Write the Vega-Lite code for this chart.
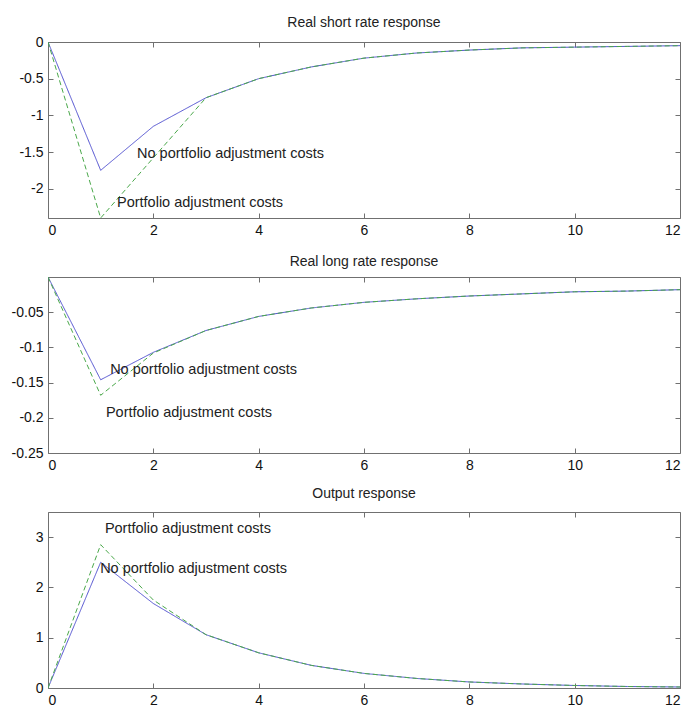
{
  "$schema": "https://vega.github.io/schema/vega-lite/v6.json",
  "background": "white",
  "padding": {"left": 11, "top": 16, "right": 3, "bottom": 2},
  "bounds": "flush",
  "spacing": 59,
  "config": {
    "view": {"stroke": null},
    "font": "Liberation Sans",
    "locale": {"number": {"decimal": ".", "thousands": ",", "grouping": [3], "currency": ["$", ""], "minus": "-"}},
    "axis": {
      "grid": false,
      "domainColor": "#707070",
      "tickColor": "#707070",
      "tickSize": -5,
      "labelPadding": 10,
      "labelColor": "#111111",
      "labelFontSize": 14,
      "labelFont": "Liberation Sans",
      "title": null
    },
    "title": {"fontSize": 14, "fontWeight": "normal", "font": "Liberation Sans", "color": "#222222", "baseline": "alphabetic", "anchor": "middle"},
    "text": {"font": "Liberation Sans"}
  },
  "datasets": {
    "short": [
      {"t": 0, "v": 0, "series": "No portfolio adjustment costs"},
      {"t": 1, "v": -1.75, "series": "No portfolio adjustment costs"},
      {"t": 2, "v": -1.15, "series": "No portfolio adjustment costs"},
      {"t": 3, "v": -0.76, "series": "No portfolio adjustment costs"},
      {"t": 4, "v": -0.5, "series": "No portfolio adjustment costs"},
      {"t": 5, "v": -0.34, "series": "No portfolio adjustment costs"},
      {"t": 6, "v": -0.22, "series": "No portfolio adjustment costs"},
      {"t": 7, "v": -0.15, "series": "No portfolio adjustment costs"},
      {"t": 8, "v": -0.11, "series": "No portfolio adjustment costs"},
      {"t": 9, "v": -0.08, "series": "No portfolio adjustment costs"},
      {"t": 10, "v": -0.07, "series": "No portfolio adjustment costs"},
      {"t": 11, "v": -0.06, "series": "No portfolio adjustment costs"},
      {"t": 12, "v": -0.05, "series": "No portfolio adjustment costs"},
      {"t": 0, "v": 0, "series": "Portfolio adjustment costs"},
      {"t": 1, "v": -2.4, "series": "Portfolio adjustment costs"},
      {"t": 2, "v": -1.58, "series": "Portfolio adjustment costs"},
      {"t": 3, "v": -0.76, "series": "Portfolio adjustment costs"},
      {"t": 4, "v": -0.5, "series": "Portfolio adjustment costs"},
      {"t": 5, "v": -0.34, "series": "Portfolio adjustment costs"},
      {"t": 6, "v": -0.22, "series": "Portfolio adjustment costs"},
      {"t": 7, "v": -0.15, "series": "Portfolio adjustment costs"},
      {"t": 8, "v": -0.11, "series": "Portfolio adjustment costs"},
      {"t": 9, "v": -0.08, "series": "Portfolio adjustment costs"},
      {"t": 10, "v": -0.07, "series": "Portfolio adjustment costs"},
      {"t": 11, "v": -0.06, "series": "Portfolio adjustment costs"},
      {"t": 12, "v": -0.05, "series": "Portfolio adjustment costs"}
    ],
    "shortText": [
      {"t": 1.69, "v": -1.53, "label": "No portfolio adjustment costs"},
      {"t": 1.31, "v": -2.2, "label": "Portfolio adjustment costs"}
    ],
    "long": [
      {"t": 0, "v": 0, "series": "No portfolio adjustment costs"},
      {"t": 1, "v": -0.146, "series": "No portfolio adjustment costs"},
      {"t": 2, "v": -0.107, "series": "No portfolio adjustment costs"},
      {"t": 3, "v": -0.076, "series": "No portfolio adjustment costs"},
      {"t": 4, "v": -0.056, "series": "No portfolio adjustment costs"},
      {"t": 5, "v": -0.044, "series": "No portfolio adjustment costs"},
      {"t": 6, "v": -0.036, "series": "No portfolio adjustment costs"},
      {"t": 7, "v": -0.031, "series": "No portfolio adjustment costs"},
      {"t": 8, "v": -0.027, "series": "No portfolio adjustment costs"},
      {"t": 9, "v": -0.024, "series": "No portfolio adjustment costs"},
      {"t": 10, "v": -0.021, "series": "No portfolio adjustment costs"},
      {"t": 11, "v": -0.02, "series": "No portfolio adjustment costs"},
      {"t": 12, "v": -0.018, "series": "No portfolio adjustment costs"},
      {"t": 0, "v": 0, "series": "Portfolio adjustment costs"},
      {"t": 1, "v": -0.168, "series": "Portfolio adjustment costs"},
      {"t": 2, "v": -0.108, "series": "Portfolio adjustment costs"},
      {"t": 3, "v": -0.076, "series": "Portfolio adjustment costs"},
      {"t": 4, "v": -0.056, "series": "Portfolio adjustment costs"},
      {"t": 5, "v": -0.044, "series": "Portfolio adjustment costs"},
      {"t": 6, "v": -0.036, "series": "Portfolio adjustment costs"},
      {"t": 7, "v": -0.031, "series": "Portfolio adjustment costs"},
      {"t": 8, "v": -0.027, "series": "Portfolio adjustment costs"},
      {"t": 9, "v": -0.024, "series": "Portfolio adjustment costs"},
      {"t": 10, "v": -0.021, "series": "Portfolio adjustment costs"},
      {"t": 11, "v": -0.02, "series": "Portfolio adjustment costs"},
      {"t": 12, "v": -0.018, "series": "Portfolio adjustment costs"}
    ],
    "longText": [
      {"t": 1.18, "v": -0.132, "label": "No portfolio adjustment costs"},
      {"t": 1.1, "v": -0.193, "label": "Portfolio adjustment costs"}
    ],
    "output": [
      {"t": 0, "v": 0, "series": "No portfolio adjustment costs"},
      {"t": 1, "v": 2.5, "series": "No portfolio adjustment costs"},
      {"t": 2, "v": 1.68, "series": "No portfolio adjustment costs"},
      {"t": 3, "v": 1.06, "series": "No portfolio adjustment costs"},
      {"t": 4, "v": 0.7, "series": "No portfolio adjustment costs"},
      {"t": 5, "v": 0.45, "series": "No portfolio adjustment costs"},
      {"t": 6, "v": 0.29, "series": "No portfolio adjustment costs"},
      {"t": 7, "v": 0.19, "series": "No portfolio adjustment costs"},
      {"t": 8, "v": 0.12, "series": "No portfolio adjustment costs"},
      {"t": 9, "v": 0.08, "series": "No portfolio adjustment costs"},
      {"t": 10, "v": 0.05, "series": "No portfolio adjustment costs"},
      {"t": 11, "v": 0.03, "series": "No portfolio adjustment costs"},
      {"t": 12, "v": 0.02, "series": "No portfolio adjustment costs"},
      {"t": 0, "v": 0, "series": "Portfolio adjustment costs"},
      {"t": 1, "v": 2.85, "series": "Portfolio adjustment costs"},
      {"t": 2, "v": 1.75, "series": "Portfolio adjustment costs"},
      {"t": 3, "v": 1.06, "series": "Portfolio adjustment costs"},
      {"t": 4, "v": 0.7, "series": "Portfolio adjustment costs"},
      {"t": 5, "v": 0.45, "series": "Portfolio adjustment costs"},
      {"t": 6, "v": 0.29, "series": "Portfolio adjustment costs"},
      {"t": 7, "v": 0.19, "series": "Portfolio adjustment costs"},
      {"t": 8, "v": 0.12, "series": "Portfolio adjustment costs"},
      {"t": 9, "v": 0.08, "series": "Portfolio adjustment costs"},
      {"t": 10, "v": 0.05, "series": "Portfolio adjustment costs"},
      {"t": 11, "v": 0.03, "series": "Portfolio adjustment costs"},
      {"t": 12, "v": 0.02, "series": "Portfolio adjustment costs"}
    ],
    "outputText": [
      {"t": 1.08, "v": 3.16, "label": "Portfolio adjustment costs"},
      {"t": 0.99, "v": 2.37, "label": "No portfolio adjustment costs"}
    ]
  },
  "vconcat": [
    {
      "width": 632,
      "height": 176,
      "title": {"text": "Real short rate response", "offset": 5},
      "layer": [
        {
          "data": {"name": "short"},
          "mark": {"type": "line", "strokeWidth": 1, "clip": true},
          "encoding": {
            "x": {"field": "t", "type": "quantitative", "scale": {"domain": [0, 12], "nice": false}, "axis": {"orient": "bottom", "values": [0, 2, 4, 6, 8, 10, 12]}},
            "y": {"field": "v", "type": "quantitative", "scale": {"domain": [-2.4, 0], "nice": false, "zero": false}, "axis": {"orient": "left", "values": [0, -0.5, -1, -1.5, -2], "format": "~g"}},
            "color": {"field": "series", "type": "nominal", "scale": {"domain": ["No portfolio adjustment costs", "Portfolio adjustment costs"], "range": ["#5050d0", "#4aa84a"]}, "legend": null},
            "strokeDash": {"field": "series", "type": "nominal", "scale": {"domain": ["No portfolio adjustment costs", "Portfolio adjustment costs"], "range": [[1, 0], [5, 3]]}, "legend": null}
          }
        },
        {
          "data": {"name": "shortText"},
          "mark": {"type": "text", "align": "left", "baseline": "middle", "fontSize": 14.5, "color": "#222222"},
          "encoding": {
            "x": {"field": "t", "type": "quantitative", "scale": {"domain": [0, 12], "nice": false}, "axis": {"orient": "top", "labels": false, "values": [0, 2, 4, 6, 8, 10, 12]}},
            "y": {"field": "v", "type": "quantitative", "scale": {"domain": [-2.4, 0], "nice": false, "zero": false}, "axis": {"orient": "right", "labels": false, "values": [0, -0.5, -1, -1.5, -2]}},
            "text": {"field": "label"}
          }
        }
      ],
      "resolve": {"axis": {"x": "independent", "y": "independent"}}
    },
    {
      "width": 632,
      "height": 176,
      "title": {"text": "Real long rate response", "offset": 8},
      "layer": [
        {
          "data": {"name": "long"},
          "mark": {"type": "line", "strokeWidth": 1, "clip": true},
          "encoding": {
            "x": {"field": "t", "type": "quantitative", "scale": {"domain": [0, 12], "nice": false}, "axis": {"orient": "bottom", "values": [0, 2, 4, 6, 8, 10, 12]}},
            "y": {"field": "v", "type": "quantitative", "scale": {"domain": [-0.25, 0], "nice": false, "zero": false}, "axis": {"orient": "left", "values": [-0.05, -0.1, -0.15, -0.2, -0.25], "format": "~g"}},
            "color": {"field": "series", "type": "nominal", "scale": {"domain": ["No portfolio adjustment costs", "Portfolio adjustment costs"], "range": ["#5050d0", "#4aa84a"]}, "legend": null},
            "strokeDash": {"field": "series", "type": "nominal", "scale": {"domain": ["No portfolio adjustment costs", "Portfolio adjustment costs"], "range": [[1, 0], [5, 3]]}, "legend": null}
          }
        },
        {
          "data": {"name": "longText"},
          "mark": {"type": "text", "align": "left", "baseline": "middle", "fontSize": 14.5, "color": "#222222"},
          "encoding": {
            "x": {"field": "t", "type": "quantitative", "scale": {"domain": [0, 12], "nice": false}, "axis": {"orient": "top", "labels": false, "values": [0, 2, 4, 6, 8, 10, 12]}},
            "y": {"field": "v", "type": "quantitative", "scale": {"domain": [-0.25, 0], "nice": false, "zero": false}, "axis": {"orient": "right", "labels": false, "values": [-0.05, -0.1, -0.15, -0.2]}},
            "text": {"field": "label"}
          }
        }
      ],
      "resolve": {"axis": {"x": "independent", "y": "independent"}}
    },
    {
      "width": 632,
      "height": 176,
      "title": {"text": "Output response", "offset": 11},
      "layer": [
        {
          "data": {"name": "output"},
          "mark": {"type": "line", "strokeWidth": 1, "clip": true},
          "encoding": {
            "x": {"field": "t", "type": "quantitative", "scale": {"domain": [0, 12], "nice": false}, "axis": {"orient": "bottom", "values": [0, 2, 4, 6, 8, 10, 12]}},
            "y": {"field": "v", "type": "quantitative", "scale": {"domain": [0, 3.5], "nice": false}, "axis": {"orient": "left", "values": [0, 1, 2, 3], "format": "~g"}},
            "color": {"field": "series", "type": "nominal", "scale": {"domain": ["No portfolio adjustment costs", "Portfolio adjustment costs"], "range": ["#5050d0", "#4aa84a"]}, "legend": null},
            "strokeDash": {"field": "series", "type": "nominal", "scale": {"domain": ["No portfolio adjustment costs", "Portfolio adjustment costs"], "range": [[1, 0], [5, 3]]}, "legend": null}
          }
        },
        {
          "data": {"name": "outputText"},
          "mark": {"type": "text", "align": "left", "baseline": "middle", "fontSize": 14.5, "color": "#222222"},
          "encoding": {
            "x": {"field": "t", "type": "quantitative", "scale": {"domain": [0, 12], "nice": false}, "axis": {"orient": "top", "labels": false, "values": [0, 2, 4, 6, 8, 10, 12]}},
            "y": {"field": "v", "type": "quantitative", "scale": {"domain": [0, 3.5], "nice": false}, "axis": {"orient": "right", "labels": false, "values": [0, 1, 2, 3]}},
            "text": {"field": "label"}
          }
        }
      ],
      "resolve": {"axis": {"x": "independent", "y": "independent"}}
    }
  ]
}
